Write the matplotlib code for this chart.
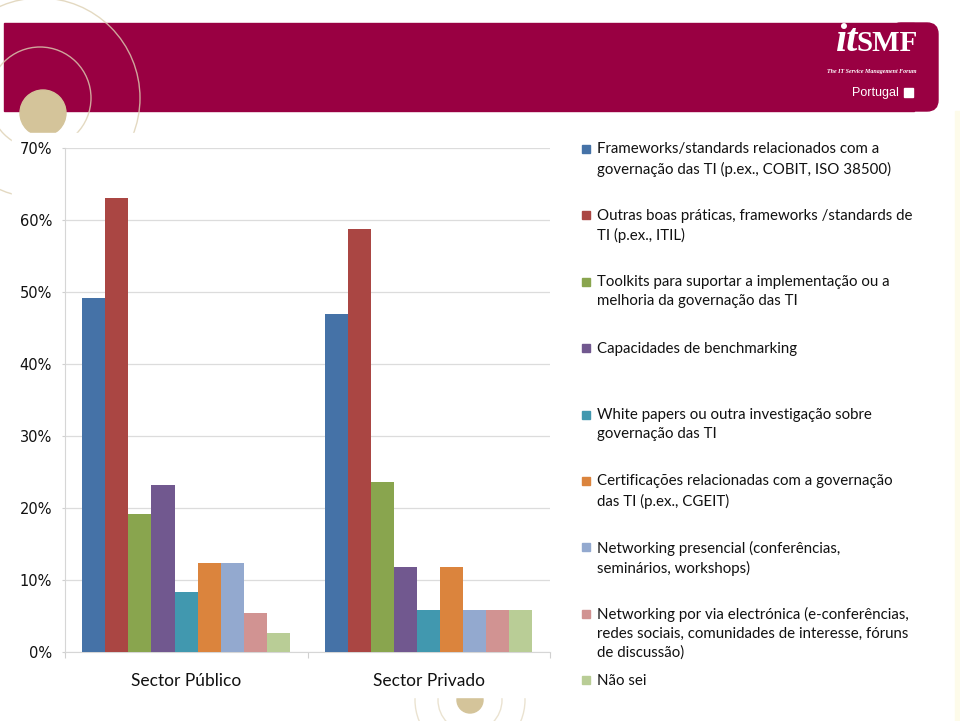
import numpy as np
import matplotlib.pyplot as plt
from matplotlib.patches import Rectangle, Circle, FancyBboxPatch

# Dados do gráfico
categorias = ['Sector Público', 'Sector Privado']
series = [
    'Frameworks/standards relacionados com a\ngovernação das TI (p.ex., COBIT, ISO 38500)',
    'Outras boas práticas, frameworks /standards de\nTI (p.ex., ITIL)',
    'Toolkits para suportar a implementação ou a\nmelhoria da governação das TI',
    'Capacidades de benchmarking',
    'White papers ou outra investigação sobre\ngovernação das TI',
    'Certificações relacionadas com a governação\ndas TI (p.ex., CGEIT)',
    'Networking presencial (conferências,\nseminários, workshops)',
    'Networking por via electrónica (e-conferências,\nredes sociais, comunidades de interesse, fóruns\nde discussão)',
    'Não sei',
]
publico = [49.2, 63.0, 19.1, 23.2, 8.3, 12.3, 12.3, 5.4, 2.7]
privado = [46.9, 58.8, 23.6, 11.8, 5.8, 11.8, 5.8, 5.8, 5.8]
cores = ['#4572A7', '#AA4643', '#89A54E', '#71588F', '#4198AF',
         '#DB843D', '#93A9CF', '#D19392', '#B9CD96']
yticks = [0, 10, 20, 30, 40, 50, 60, 70]

W, H = 960, 721
fig = plt.figure(figsize=(W/100, H/100), dpi=100)

# Fundo do slide (coordenadas em pixels)
bg = fig.add_axes([0, 0, 1, 1])
bg.set_xlim(0, W)
bg.set_ylim(H, 0)
bg.axis('off')

# Banner
bg.add_patch(Rectangle((4, 23), 910, 88, color='#990042', zorder=1))
bg.add_patch(FancyBboxPatch((890, 23), 48, 88, boxstyle='round,pad=0,rounding_size=11',
                            color='#990042', zorder=1))

# Circulos decorativos
beige = '#DDD0B2'
for r in [51, 100]:
    bg.add_patch(Circle((40, 98), r, fill=False, ec=beige, lw=1, alpha=0.8, zorder=2))
bg.add_patch(Circle((43, 113), 23, color='#D4C49A', zorder=2))
for r in [32, 55]:
    bg.add_patch(Circle((470, 700), r, fill=False, ec=beige, lw=1, alpha=0.6, zorder=2))
bg.add_patch(Circle((470, 700), 13, color='#D4C49A', zorder=2))

# Area branca do gráfico
bg.add_patch(Rectangle((12, 133), 943, 564, color='white', zorder=3))
bg.add_patch(Rectangle((955, 111), 5, 610, color='#FDFBEA', zorder=3))

# Logotipo
bg.text(858, 51, 'it', color='white', fontsize=29, fontweight='bold', fontstyle='italic',
        family='Liberation Serif', ha='right', va='baseline', zorder=4)
bg.text(918, 51, 'SMF', color='white', fontsize=21, fontweight='bold',
        family='Liberation Serif', ha='right', va='baseline', zorder=4)
bg.text(872, 72, 'The IT Service Management Forum', color='white', fontsize=4.3,
        fontweight='bold', fontstyle='italic', family='Liberation Serif',
        ha='center', va='center', zorder=4)
bg.text(899, 93, 'Portugal', color='white', fontsize=9, family='Liberation Sans',
        ha='right', va='center', zorder=4)
bg.add_patch(Rectangle((904, 88), 9, 9, color='white', zorder=4))

# Gráfico de barras
ax = fig.add_axes([65/W, 1 - 652/H, 485/W, 504/H])
ax.set_facecolor('none')
n = len(series)
w = 0.856 / n
x = np.arange(len(categorias))
for i in range(n):
    ax.bar(x + 0.0713 + (i + 0.5) * w, [publico[i], privado[i]], width=w,
           color=cores[i], zorder=3)

ax.set_xlim(0, 2)
ax.set_ylim(0, 70)
ax.set_yticks(yticks)
ax.set_yticklabels(['%d%%' % v for v in yticks], family='DejaVu Sans', fontsize=10.5,
                   color='#111111')
ax.yaxis.grid(True, color='#DCDCDC', lw=0.9, zorder=0)
ax.set_xticks([0, 1, 2])
ax.set_xticklabels([])
ax.set_xticks(x + 0.5, minor=True)
ax.set_xticklabels(categorias, minor=True, family='Lato', fontsize=12.5, color='#111111')
ax.tick_params(axis='x', which='major', length=4, color='#D0D0D0', direction='out')
ax.tick_params(axis='x', which='minor', length=0, pad=15)
ax.tick_params(axis='y', length=2.2, color='#D0D0D0', pad=7.2)
for s in ['top', 'right']:
    ax.spines[s].set_visible(False)
for s in ['left', 'bottom']:
    ax.spines[s].set_color('#D6D6D6')

# Legenda
for i in range(n):
    yc = 149 + 66.4 * i
    bg.add_patch(Rectangle((582, yc - 4), 8, 8, color=cores[i], zorder=4))
    bg.text(597, yc - 6.5, series[i], family='Lato', fontsize=10.8, va='top', ha='left',
            linespacing=1.42, color='#111111', zorder=4)

fig.savefig('out.png', dpi=100)
